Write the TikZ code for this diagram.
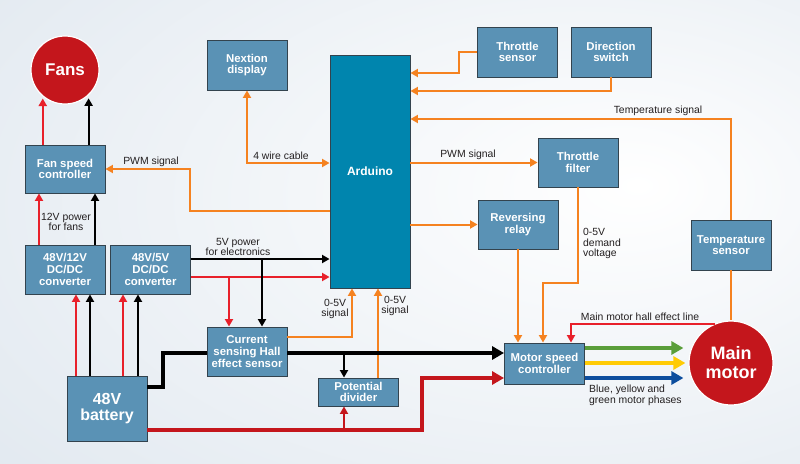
\documentclass[tikz,border=0pt]{standalone}
\usepackage{fontspec}
\setmainfont{Liberation Sans}
\usetikzlibrary{arrows.meta}
\definecolor{boxblue}{HTML}{5A92B5}
\definecolor{ardblue}{HTML}{0085AE}
\definecolor{edge}{HTML}{33434E}
\definecolor{sigor}{HTML}{F58220}
\definecolor{pwred}{HTML}{E8202A}
\definecolor{motred}{HTML}{C4161C}
\definecolor{phgreen}{HTML}{5A9E3A}
\definecolor{phyellow}{HTML}{FFCB05}
\definecolor{phblue}{HTML}{0D4E9E}
\definecolor{txt}{HTML}{231F20}
\definecolor{bgedge}{HTML}{DAE3EC}
\pgfdeclareradialshading{bgglow}{\pgfpoint{15bp}{5bp}}{color(0bp)=(white); color(55bp)=(bgedge); color(80bp)=(bgedge)}
\begin{document}
\begin{tikzpicture}[x=1pt,y=-1pt,line join=miter,font=\fontsize{10.4}{10.6}\selectfont,
	blk/.style={draw=edge,line width=0.9pt,fill=boxblue,text=white,align=center,inner sep=1pt,
		font=\fontsize{11.4}{11.6}\selectfont\bfseries,minimum width=80pt,minimum height=49pt},
	ball/.style={circle,draw=white,line width=1.2pt,fill=motred,text=white,align=center,inner sep=0pt,
		font=\fontsize{18}{19}\selectfont\bfseries},
	sig/.style={draw=sigor,line width=2pt,-{Triangle[length=7.5pt,width=8pt]}},
	pw/.style={line width=2pt,-{Triangle[length=7.5pt,width=8pt]}},
	bus/.style={line width=4.2pt,-{Triangle[length=12pt,width=13pt]}},
	lbl/.style={text=txt,align=center,inner sep=0pt}]
	\useasboundingbox (0,0) rectangle (800,463);
	\shade[shading=bgglow] (0,0) rectangle (800,463);
	% blocks
	\node[ball,minimum size=68pt,font=\fontsize{17}{18}\selectfont\bfseries] (fans) at (65,70) {Fans};
	\node[blk,minimum height=48pt] (fsc) at (65,169) {Fan speed\\controller};
	\node[blk] (c12) at (65,269.5) {48V/12V\\DC/DC\\converter};
	\node[blk] (c5) at (150.5,269.5) {48V/5V\\DC/DC\\converter};
	\node[blk,minimum height=65pt,font=\fontsize{16}{16}\selectfont\bfseries] (bat) at (107,408.5) {48V\\battery};
	\node[blk,minimum height=50pt] (nex) at (247,65) {Nextion\\display};
	\node[blk,fill=ardblue,minimum height=233pt,font=\fontsize{12}{13}\selectfont\bfseries] (ard) at (370,171.5) {Arduino};
	\node[blk,minimum height=50pt] (tsens) at (517.5,52) {Throttle\\sensor};
	\node[blk,minimum height=50pt] (dsw) at (611,52) {Direction\\switch};
	\node[blk] (tfil) at (578,162.5) {Throttle\\filter};
	\node[blk] (rel) at (518,224.5) {Reversing\\relay};
	\node[blk,minimum height=50pt] (tmp) at (731,245) {Temperature\\sensor};
	\node[blk] (hall) at (247,351.5) {Current\\sensing Hall\\effect sensor};
	\node[blk,minimum height=28pt] (pdiv) at (358.5,392) {Potential\\divider};
	\node[blk,minimum height=41pt] (msc) at (544.5,363.5) {Motor speed\\controller};
	\node[ball,minimum size=84pt] (mot) at (731,363) {Main\\motor};
	% fans and converters
	\draw[pw,pwred,shorten >=2pt] (fsc.north -| fans.-130) -- (fans.-130);
	\draw[pw,shorten >=3pt] (fsc.north -| fans.-47) -- (fans.-47);
	\draw[pw,pwred] (c12.north -| 39,0) -- (fsc.south -| 39,0);
	\draw[pw] (c12.north -| 95,0) -- (fsc.south -| 95,0);
	\node[lbl] (l12) at (66,222) {12V power\\for fans};
	\draw[pw,pwred] (bat.north -| 76,0) -- (c12.south -| 76,0);
	\draw[pw] (bat.north -| 90,0) -- (c12.south -| 90,0);
	\draw[pw,pwred] (bat.north -| 123,0) -- (c5.south -| 123,0);
	\draw[pw] (bat.north -| 138,0) -- (c5.south -| 138,0);
	% 5V supply
	\draw[pw] (c5.east |- 0,259) -- (ard.west |- 0,259);
	\draw[pw,pwred] (c5.east |- 0,277) -- (ard.west |- 0,277);
	\draw[pw] (c5.east |- 0,259) -| (hall.north -| 262,0);
	\draw[pw,pwred] (c5.east |- 0,277) -| (hall.north -| 229,0);
	\node[lbl] (l5) at (238,247) {5V power\\for electronics};
	% sensor signals to arduino
	\draw[sig] (hall.east |- 0,337) -| (ard.south -| 352,0);
	\draw[sig] (pdiv.north -| 378,0) -- (ard.south -| 378,0);
	\node[lbl] (lsig1) at (335,309) {0-5V\\signal};
	\node[lbl] (lsig2) at (395,306) {0-5V\\signal};
	% main supply
	\coordinate (jb) at (344,353);
	\coordinate (jr) at (344,430);
	\draw[bus,-] (bat.east |- 0,387) -- (163,387) -- (163,353) -- (hall.west |- 0,353);
	\draw[bus] (hall.east |- 0,353) -- (msc.west |- 0,353);
	\draw[pw] (jb) -- (pdiv.north -| jb);
	\draw[bus,motred] (bat.east |- 0,430) -- (422,430) -- (422,378) -- (msc.west |- 0,378);
	\draw[pw,motred] (jr) -- (pdiv.south -| jr);
	% controller inputs
	\draw[sig] (rel.south) -- (msc.north -| rel.south);
	\draw[sig] (tfil.south) -- ++(0,96) -| (msc.north -| 543,0);
	\node[lbl,align=left,anchor=north west] (ldem) at (583,228) {0-5V\\demand\\voltage};
	\draw[pw,pwred] (mot.112) -| (msc.north -| 571,0);
	\node[lbl] (lhall) at (640,317) {Main motor hall effect line};
	% temperature
	\draw[sig,-] (tmp.south) -- (mot.north);
	\draw[sig] (tmp.north) |- (ard.east |- 0,119);
	\node[lbl] (ltmp) at (658,111) {Temperature signal};
	% phases
	\draw[bus,phgreen,shorten >=5pt] (msc.east |- 0,348) -- (mot.west |- 0,348);
	\draw[bus,phyellow,shorten >=3pt] (msc.east |- 0,363) -- (mot.west |- 0,363);
	\draw[bus,phblue,shorten >=5pt] (msc.east |- 0,378) -- (mot.west |- 0,378);
	\node[lbl,align=left,anchor=north west] (lph) at (589,385) {Blue, yellow and\\green motor phases};
	% arduino links
	\draw[sig] (tsens.west) -- ++(-18,0) |- (ard.east |- 0,73);
	\draw[sig] (dsw.south) |- (ard.east |- 0,91);
	\draw[sig] (ard.east |- tfil.west) -- (tfil.west);
	\node[lbl] (lpwm1) at (468,155) {PWM signal};
	\draw[sig] (ard.east |- rel.west) -- (rel.west);
	\draw[sig,{Triangle[length=7.5pt,width=8pt]}-{Triangle[length=7.5pt,width=8pt]}] (nex.south) |- (ard.west |- 0,163);
	\node[lbl] (lcab) at (281,156) {4 wire cable};
	\draw[sig] (ard.west |- 0,211) -- (190,211) |- (fsc.east);
	\node[lbl] (lpwm2) at (151,162) {PWM signal};
\end{tikzpicture}
\end{document}
